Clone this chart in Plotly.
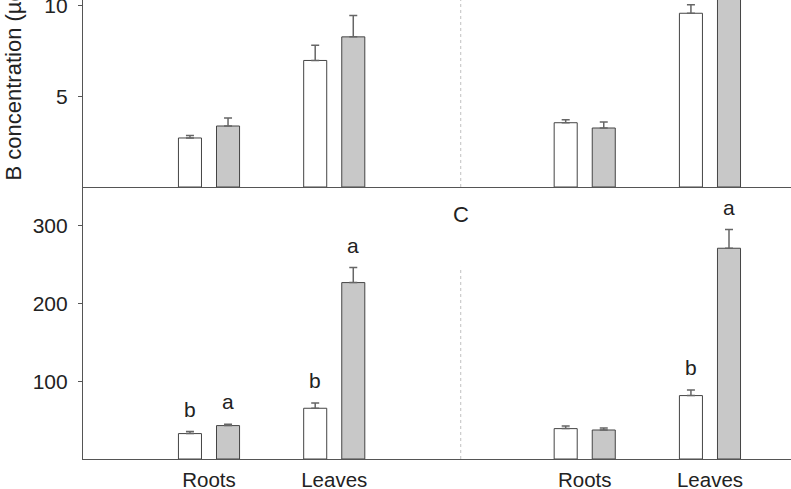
import plotly.graph_objects as go

# ---- data ----
positions = [1, 2, 4, 5]
categories = ["Roots", "Leaves", "Roots", "Leaves"]

top_white = [2.70, 6.97, 3.54, 9.57]
top_white_err = [0.13, 0.84, 0.17, 0.47]
top_gray = [3.36, 8.27, 3.25, 11.6]
top_gray_err = [0.44, 1.17, 0.33, 1.0]

bot_white = [32.7, 65.3, 39.1, 81.6]
bot_white_err = [2.6, 6.8, 3.4, 7.2]
bot_gray = [43.0, 227.0, 37.3, 271.2]
bot_gray_err = [1.7, 19.3, 2.6, 24.0]

letters_white = ["b", "b", "", "b"]
letters_gray = ["a", "a", "", "a"]

top_ticks = [5, 10]
bot_ticks = [100, 200, 300]

# ---- style ----
FONT = "Liberation Sans, Arial, sans-serif"
TXT = "#222222"
AX = "#555555"
EDGE = "#444444"
GRAY = "#c8c8c8"
BW = 0.184
SHIFT = 0.152
split = (459 - 187) / 459

fig = go.Figure()


def add_bars(vals, errs, fill, side, xa, ya):
    fig.add_trace(go.Bar(
        x=positions, y=vals, width=BW,
        offset=side * SHIFT - BW / 2,
        marker=dict(color=fill, line=dict(color=EDGE, width=1)),
        error_y=dict(type="data", symmetric=False, array=errs,
                     arrayminus=[0] * len(errs), color="#666666",
                     thickness=1.5, width=4),
        xaxis=xa, yaxis=ya, showlegend=False, hoverinfo="skip",
    ))


add_bars(bot_white, bot_white_err, "white", -1, "x", "y")
add_bars(bot_gray, bot_gray_err, GRAY, 1, "x", "y")
add_bars(top_white, top_white_err, "white", -1, "x2", "y2")
add_bars(top_gray, top_gray_err, GRAY, 1, "x2", "y2")

annotations = []
for p, v, e, t in zip(positions, bot_white, bot_white_err, letters_white):
    if t:
        annotations.append(dict(x=p - SHIFT, y=v + e, xref="x", yref="y", text=t,
                                showarrow=False, yanchor="bottom", yshift=9,
                                font=dict(size=21, color=TXT, family=FONT)))
for p, v, e, t in zip(positions, bot_gray, bot_gray_err, letters_gray):
    if t:
        annotations.append(dict(x=p + SHIFT, y=v + e, xref="x", yref="y", text=t,
                                showarrow=False, yanchor="bottom", yshift=9,
                                font=dict(size=21, color=TXT, family=FONT)))

annotations.append(dict(x=3.01, y=(459 - 214) / 459, xref="x", yref="paper", text="C",
                        showarrow=False, yanchor="middle",
                        font=dict(size=22, color=TXT, family=FONT)))
annotations.append(dict(x=-(83 - 11) / 708, y=(459 - 183) / 459, xref="paper", yref="paper",
                        text="B concentration (µg g<sup>-1</sup> DW)", textangle=-90,
                        showarrow=False, xanchor="center", yanchor="bottom",
                        font=dict(size=22, color=TXT, family=FONT)))

shapes = [
    dict(type="line", xref="x2", yref="y2 domain", x0=3.01, x1=3.01, y0=0, y1=1,
         line=dict(color="#c0c0c0", width=1, dash="dot")),
    dict(type="line", xref="x", yref="y domain", x0=3.01, x1=3.01, y0=0, y1=0.706,
         line=dict(color="#c0c0c0", width=1, dash="dot")),
]

xcommon = dict(range=[-0.006, 5.647], showline=True, linecolor=AX, linewidth=1.2,
               showgrid=False, zeroline=False, ticks="", automargin=False,
               ticklabeloverflow="allow")
ycommon = dict(showline=True, linecolor=AX, linewidth=1.2, showgrid=False,
               zeroline=False, ticks="outside", ticklen=4, tickcolor=AX,
               ticklabelstandoff=6, automargin=False, ticklabeloverflow="allow",
               tickfont=dict(size=21, color=TXT, family=FONT))

fig.update_layout(
    width=791, height=489,
    margin=dict(l=83, r=0, t=0, b=30, autoexpand=False),
    paper_bgcolor="white", plot_bgcolor="white",
    barmode="overlay",
    font=dict(family=FONT, color=TXT),
    xaxis=dict(**xcommon, anchor="y", tickvals=positions, ticktext=categories,
               tickfont=dict(size=20.5, color=TXT, family=FONT), ticklabelstandoff=2),
    yaxis=dict(**ycommon, domain=[0, split], anchor="x", range=[0, 350],
               tickvals=bot_ticks),
    xaxis2=dict(**xcommon, anchor="y2", showticklabels=False),
    yaxis2=dict(**ycommon, domain=[split, 1], anchor="x2", range=[0, 10.3],
                tickvals=top_ticks),
    annotations=annotations,
    shapes=shapes,
)

fig.write_html("out.html", config={"displayModeBar": False},
               post_script="document.body.style.margin='0';document.body.style.overflow='hidden';")
